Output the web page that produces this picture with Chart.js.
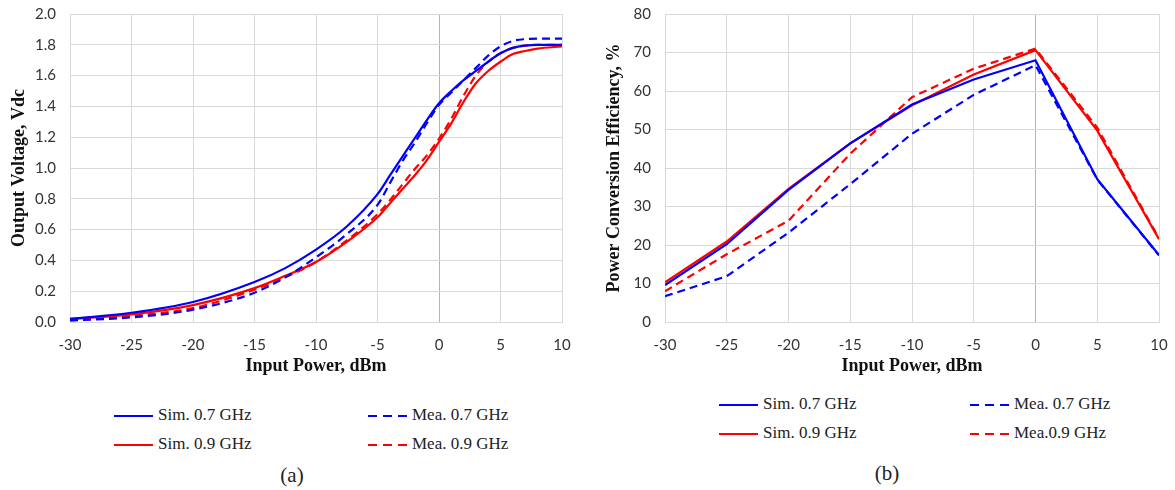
<!DOCTYPE html>
<html>
<head>
<meta charset="utf-8">
<script src="https://cdn.jsdelivr.net/npm/chart.js@4.4.0/dist/chart.umd.min.js"></script>
<style>
  body { margin: 0; background: #fff; width: 1175px; height: 490px; position: relative; overflow: hidden; }
  canvas { position: absolute; top: 0; }
  #chart-a { left: 0; }
  #chart-b { left: 595px; }
  .leg { position: absolute; font: 17px "Liberation Serif", serif; color: #222; white-space: nowrap; line-height: 20px; }
  .leg svg { position: absolute; left: 0; top: 9px; }
  .leg span { position: absolute; top: 0; }
  .cap { position: absolute; font: 21px "Liberation Serif", serif; color: #222; transform: translate(-50%, -50%); }
</style>
</head>
<body>
<canvas id="chart-a" width="580" height="390"></canvas>
<canvas id="chart-b" width="580" height="390"></canvas>
<div id="legend-a"></div>
<div id="legend-b"></div>
<div class="cap" style="left:292px; top:475px;">(a)</div>
<div class="cap" style="left:887px; top:473px;">(b)</div>
<script>
// (a) output voltage vs input power
const pinA = [-30, -25, -20, -15, -12.5, -10, -7.5, -5, -4, -3, -2, -1, 0, 1, 2, 3, 4, 5, 6, 7, 8, 10];
const simA07 = [0.02, 0.06, 0.13, 0.26, 0.35, 0.47, 0.62, 0.83, 0.95, 1.07, 1.19, 1.31, 1.42, 1.50, 1.57, 1.63, 1.69, 1.745, 1.78, 1.795, 1.80, 1.80];
const meaA07 = [0.01, 0.03, 0.08, 0.19, 0.29, 0.42, 0.57, 0.76, 0.90, 1.04, 1.16, 1.29, 1.41, 1.49, 1.57, 1.65, 1.73, 1.79, 1.825, 1.837, 1.84, 1.84];
const simA09 = [0.02, 0.05, 0.11, 0.22, 0.30, 0.39, 0.52, 0.68, 0.77, 0.86, 0.95, 1.05, 1.17, 1.29, 1.43, 1.55, 1.63, 1.69, 1.74, 1.76, 1.775, 1.79];
const meaA09 = [0.01, 0.04, 0.09, 0.21, 0.29, 0.39, 0.53, 0.70, 0.79, 0.89, 0.99, 1.08, 1.19, 1.32, 1.47, 1.60, 1.69, 1.745, 1.78, 1.795, 1.80, 1.80];

// (b) power conversion efficiency vs input power
const pinB = [-30, -25, -20, -15, -10, -5, 0, 5, 10];
const simB07 = [9.6, 20.2, 34.3, 46.4, 56.5, 63.0, 68.0, 37.1, 17.4];
const meaB07 = [6.7, 11.9, 23.2, 35.8, 48.9, 59.0, 66.7, 37.0, 17.3];
const simB09 = [10.3, 20.9, 34.6, 46.4, 56.3, 64.3, 70.6, 49.7, 21.5];
const meaB09 = [8.0, 17.6, 26.3, 43.7, 58.4, 65.8, 71.0, 50.5, 21.7];

const BLUE = '#0000ff';
const RED = '#ff0000';
const GRID = '#d9d9d9';
const DASH = [8, 5];

const legendA = ['Sim. 0.7 GHz', 'Mea. 0.7 GHz', 'Sim. 0.9 GHz', 'Mea. 0.9 GHz'];
const legendB = ['Sim. 0.7 GHz', 'Mea. 0.7 GHz', 'Sim. 0.9 GHz', 'Mea.0.9 GHz'];

function series(xs, ys, color, dashed, smooth) {
    return {
        data: xs.map((x, i) => ({ x: x, y: ys[i] })),
        borderColor: color,
        borderWidth: 2.2,
        borderDash: dashed ? DASH : [],
        pointRadius: 0,
        fill: false,
        cubicInterpolationMode: smooth ? 'monotone' : 'default',
        tension: 0
    };
}

function makeChart(id, datasets, yOpts, yTitle, rightPad) {
    const tickFont = { family: 'Lato', size: 15 };
    const titleFont = { family: '"Liberation Serif"', size: 18, weight: 'bold' };
    return new Chart(document.getElementById(id), {
        type: 'line',
        data: { datasets: datasets },
        options: {
            responsive: false,
            animation: false,
            devicePixelRatio: 1,
            layout: { padding: { top: 14, right: rightPad, left: 0, bottom: 0 } },
            plugins: { legend: { display: false }, tooltip: { enabled: false } },
            scales: {
                x: {
                    type: 'linear',
                    min: -30, max: 10,
                    // fixed axis box so the plot area lands where the reference has it
                    afterFit: s => { s.height = 68; s.paddingLeft = 0; s.paddingRight = 0; },
                    ticks: { stepSize: 5, padding: 14, color: '#333', font: tickFont },
                    grid: {
                        drawTicks: false,
                        color: c => (c.tick && c.tick.value === 0 ? '#b4b4b4' : GRID)
                    },
                    border: { color: GRID },
                    title: { display: true, text: 'Input Power, dBm', color: '#111', font: titleFont, padding: { top: 0, bottom: 13 } }
                },
                y: {
                    min: yOpts.min, max: yOpts.max,
                    afterFit: s => { s.width = 70; s.paddingTop = 0; s.paddingBottom = 0; },
                    ticks: { stepSize: yOpts.step, padding: 14, color: '#333', font: tickFont, callback: yOpts.fmt },
                    grid: { drawTicks: false, color: GRID },
                    border: { color: GRID },
                    title: { display: true, text: yTitle, color: '#111', font: titleFont, padding: { top: 9, bottom: 0 } }
                }
            }
        }
    });
}

function renderLegend(id, labels, left, top, colX, rowGap) {
    const box = document.getElementById(id);
    const colors = [BLUE, BLUE, RED, RED];
    labels.forEach((lab, i) => {
        const dashed = i % 2 === 1;
        const d = document.createElement('div');
        d.className = 'leg';
        d.style.left = (left + (i % 2) * colX) + 'px';
        d.style.top = (top + Math.floor(i / 2) * rowGap - 10) + 'px';
        d.innerHTML = `<svg width="40" height="4"><line x1="0" y1="2" x2="39" y2="2" stroke="${colors[i]}" stroke-width="2.2" ${dashed ? 'stroke-dasharray="9 6"' : ''}/></svg><span style="left:44px">${lab}</span>`;
        box.appendChild(d);
    });
}

function init() {
    makeChart('chart-a', [
        series(pinA, simA07, BLUE, false, true),
        series(pinA, meaA07, BLUE, true, true),
        series(pinA, simA09, RED, false, true),
        series(pinA, meaA09, RED, true, true)
    ], { min: 0, max: 2, step: 0.2, fmt: v => v.toFixed(1) }, 'Output Voltage, Vdc', 18);

    makeChart('chart-b', [
        series(pinB, simB07, BLUE, false, false),
        series(pinB, meaB07, BLUE, true, false),
        series(pinB, simB09, RED, false, false),
        series(pinB, meaB09, RED, true, false)
    ], { min: 0, max: 80, step: 10, fmt: v => v }, 'Power Conversion Efficiency, %', 16);

    renderLegend('legend-a', legendA, 114, 415, 254, 29);
    renderLegend('legend-b', legendB, 719, 404, 251, 29);
}

init();
</script>
</body>
</html>
